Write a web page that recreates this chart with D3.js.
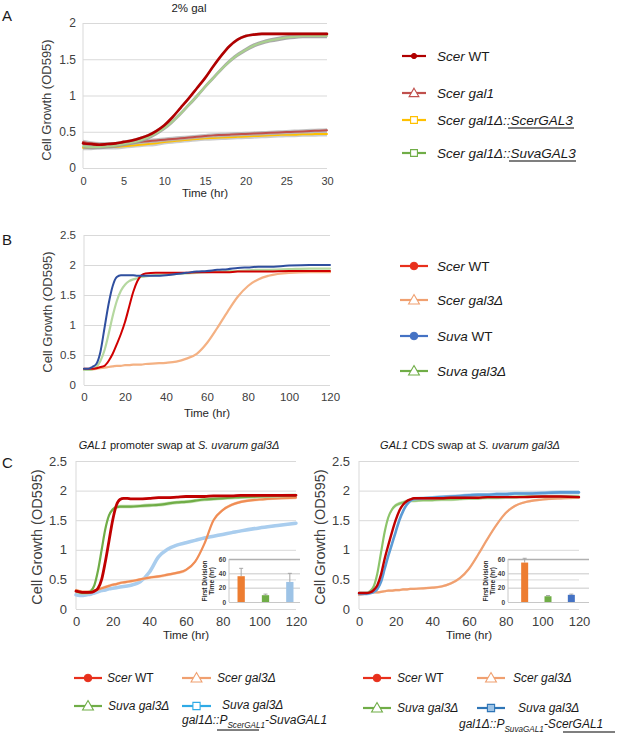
<!DOCTYPE html>
<html><head><meta charset="utf-8">
<script src="https://cdn.jsdelivr.net/npm/d3@7"></script>
<style>html,body{margin:0;padding:0;background:#fff;}svg{display:block;}</style>
</head><body>
<script>
// ---------------- DATA ----------------
// Panel A (2% gal), time in hr
const timeA = [0,1,2,3,4,5,6,7,8,9,10,11,12,13,14,15,16,17,18,19,20,21,22,23,24,25,26,27,28,29,30];
const aScerWT   = [0.34,0.33,0.32,0.33,0.34,0.36,0.38,0.41,0.45,0.51,0.59,0.70,0.83,0.96,1.10,1.24,1.40,1.55,1.68,1.77,1.82,1.84,1.85,1.85,1.85,1.85,1.85,1.85,1.85,1.85,1.85];
const aScerGal1 = [0.36,0.34,0.33,0.33,0.33,0.34,0.35,0.36,0.37,0.38,0.39,0.40,0.41,0.42,0.43,0.44,0.45,0.455,0.46,0.465,0.47,0.475,0.48,0.485,0.49,0.495,0.50,0.505,0.51,0.515,0.52];
const aScerGAL3 = [0.28,0.28,0.29,0.29,0.29,0.30,0.31,0.32,0.33,0.34,0.36,0.37,0.38,0.39,0.40,0.41,0.415,0.42,0.425,0.43,0.435,0.44,0.445,0.45,0.455,0.46,0.46,0.465,0.465,0.47,0.47];
const aSuvaGAL3 = [0.30,0.29,0.29,0.30,0.31,0.33,0.35,0.38,0.42,0.48,0.55,0.64,0.75,0.87,0.99,1.12,1.24,1.36,1.47,1.56,1.63,1.69,1.73,1.76,1.78,1.80,1.81,1.82,1.82,1.82,1.82];
const aErrors   = [0.02, 0.03, 0.035, 0.03];
const aLabels   = ["Scer WT", "Scer gal1", "Scer gal1Δ::ScerGAL3", "Scer gal1Δ::SuvaGAL3"];

// Panels B and C share a time grid (hr)
const timeBC = [0,2,4,6,8,10,12,14,16,18,20,22,24,26,28,30,35,40,45,50,55,60,65,70,75,80,85,90,100,110,120];
const bScerWT   = [0.27,0.27,0.27,0.28,0.30,0.32,0.40,0.52,0.68,0.85,1.05,1.30,1.55,1.73,1.83,1.86,1.87,1.87,1.87,1.87,1.88,1.88,1.88,1.88,1.89,1.89,1.89,1.89,1.90,1.90,1.90];
const bScerGal3 = [0.25,0.25,0.26,0.27,0.28,0.29,0.30,0.31,0.32,0.32,0.33,0.33,0.34,0.34,0.34,0.35,0.36,0.37,0.39,0.44,0.52,0.70,0.95,1.22,1.47,1.65,1.76,1.82,1.87,1.88,1.88];
const bSuvaWT   = [0.27,0.27,0.30,0.35,0.55,0.95,1.35,1.65,1.80,1.83,1.83,1.83,1.83,1.82,1.82,1.82,1.82,1.83,1.85,1.87,1.89,1.90,1.92,1.93,1.95,1.96,1.97,1.97,1.99,2.00,2.00];
const bSuvaGal3 = [0.25,0.25,0.26,0.30,0.40,0.58,0.85,1.15,1.40,1.57,1.67,1.73,1.76,1.78,1.80,1.81,1.83,1.84,1.85,1.86,1.87,1.88,1.89,1.90,1.90,1.91,1.92,1.92,1.93,1.94,1.94];

// Panel C left: GAL1 promoter swap
const cpScerWT   = [0.30,0.29,0.28,0.28,0.28,0.30,0.35,0.50,0.80,1.15,1.50,1.75,1.85,1.87,1.87,1.86,1.86,1.87,1.88,1.88,1.89,1.90,1.90,1.90,1.91,1.91,1.91,1.92,1.92,1.92,1.92];
const cpScerGal3 = [0.32,0.30,0.29,0.29,0.30,0.31,0.33,0.35,0.37,0.39,0.41,0.42,0.44,0.45,0.46,0.47,0.50,0.53,0.55,0.58,0.61,0.66,0.80,1.10,1.50,1.67,1.76,1.81,1.85,1.87,1.88];
const cpSuvaGal3 = [0.30,0.28,0.27,0.27,0.30,0.40,0.65,1.00,1.35,1.58,1.68,1.72,1.73,1.73,1.73,1.73,1.74,1.75,1.76,1.78,1.80,1.81,1.83,1.85,1.86,1.87,1.88,1.89,1.90,1.91,1.92];
const cpSwap     = [0.24,0.23,0.23,0.24,0.25,0.27,0.29,0.31,0.32,0.34,0.35,0.36,0.37,0.38,0.39,0.40,0.46,0.62,0.88,1.01,1.08,1.12,1.16,1.20,1.23,1.26,1.29,1.32,1.37,1.41,1.45];

// Panel C right: GAL1 CDS swap
const ccScerWT   = [0.27,0.27,0.27,0.28,0.32,0.40,0.58,0.85,1.08,1.30,1.50,1.66,1.76,1.82,1.85,1.87,1.87,1.87,1.87,1.88,1.88,1.88,1.88,1.89,1.89,1.89,1.89,1.89,1.90,1.90,1.89];
const ccScerGal3 = [0.24,0.25,0.26,0.27,0.28,0.28,0.29,0.30,0.31,0.31,0.32,0.32,0.33,0.33,0.34,0.34,0.35,0.36,0.38,0.43,0.52,0.68,0.92,1.18,1.42,1.62,1.74,1.80,1.85,1.87,1.88];
const ccSuvaGal3 = [0.27,0.27,0.27,0.30,0.38,0.60,0.95,1.30,1.55,1.68,1.75,1.78,1.80,1.82,1.83,1.83,1.84,1.84,1.85,1.85,1.86,1.87,1.87,1.88,1.88,1.89,1.89,1.90,1.90,1.90,1.90];
const ccSwap     = [0.26,0.26,0.26,0.27,0.29,0.34,0.46,0.68,0.90,1.10,1.30,1.50,1.65,1.76,1.83,1.86,1.87,1.88,1.89,1.90,1.91,1.92,1.93,1.93,1.94,1.94,1.95,1.95,1.96,1.97,1.97];

// Insets: first division time (hr)
const insetCats      = ["Scer gal3Δ", "Suva gal3Δ", "swap"];
const insetPromoter  = [36, 9.5, 28];
const insetPromErr   = [11, 1.5, 12];
const insetCDS       = [55, 8, 10];
const insetCDSErr    = [6, 1, 1];

// Tick values
const yTicksA = [0, 0.5, 1, 1.5, 2];
const xTicksA = [0, 5, 10, 15, 20, 25, 30];
const yTicksBC = [0, 0.5, 1, 1.5, 2, 2.5];
const xTicksBC = [0, 20, 40, 60, 80, 100, 120];
const yTicksInset = [0, 20, 40, 60];

// ---------------- DRAW ----------------
const FONT = "'Liberation Sans', Arial, Helvetica, sans-serif";
const W = 617, H = 734;
const svg = d3.select("body").append("svg").attr("width", W).attr("height", H)
  .style("font-family", FONT);
svg.append("rect").attr("width", W).attr("height", H).attr("fill", "#fff");

const GRID = "#d9d9d9", TICK = "#404040";

function rich(g, x, y, parts, size, anchor, fill) {
  const t = g.append("text").attr("x", x).attr("y", y)
    .attr("font-size", size).attr("text-anchor", anchor || "start")
    .attr("fill", fill || "#1a1a1a");
  parts.forEach(p => {
    const s = t.append("tspan").text(p.t);
    if (p.i) s.attr("font-style", "italic");
    if (p.sub) s.attr("font-size", size * 0.68).attr("dy", size * 0.3);
    if (p.unsub) s.attr("dy", -size * 0.3);
  });
  return t;
}

function panel(cfg) {
  const g = svg.append("g");
  const x = d3.scaleLinear().domain(cfg.xDomain).range(cfg.xRange);
  const y = d3.scaleLinear().domain(cfg.yDomain).range(cfg.yRange);
  const w = cfg.xRange[1] - cfg.xRange[0];
  const ya = g.append("g").attr("transform", `translate(${cfg.xRange[0]},0)`)
    .call(d3.axisLeft(y).tickValues(cfg.yTicks).tickSize(-w).tickPadding(cfg.yPad)
      .tickFormat(d3.format("~g")));
  ya.select(".domain").remove();
  ya.selectAll("line").attr("stroke", GRID).attr("stroke-width", 1);
  ya.selectAll("text").attr("fill", TICK).attr("font-size", cfg.yFont).attr("font-family", FONT);
  g.append("line").attr("x1", cfg.xRange[0]).attr("x2", cfg.xRange[0])
    .attr("y1", cfg.yRange[0]).attr("y2", cfg.yRange[1]).attr("stroke", GRID);
  const xa = g.append("g").attr("transform", `translate(0,${cfg.yRange[0]})`)
    .call(d3.axisBottom(x).tickValues(cfg.xTicks).tickSize(0).tickPadding(cfg.xPad));
  xa.select(".domain").remove();
  xa.selectAll("text").attr("fill", TICK).attr("font-size", cfg.xFont).attr("font-family", FONT);
  g.append("text").attr("x", (cfg.xRange[0] + cfg.xRange[1]) / 2).attr("y", cfg.xTitleY)
    .attr("text-anchor", "middle").attr("font-size", cfg.xTitleFont).attr("fill", "#262626").text("Time (hr)");
  g.append("text").attr("transform", `translate(${cfg.yTitleX},${cfg.yTitleY}) rotate(-90)`)
    .attr("text-anchor", "middle").attr("font-size", cfg.yTitleFont).attr("fill", "#404040")
    .text("Cell Growth (OD595)");
  const sg = g.append("g");
  cfg.series.forEach(s => {
    const pts = cfg.time.map((t, i) => ({ t, v: s.values[i] }));
    if (s.err) {
      sg.append("path").datum(pts)
        .attr("d", d3.area().curve(d3.curveMonotoneX).x(d => x(d.t))
          .y0(d => y(d.v - s.err)).y1(d => y(d.v + s.err)))
        .attr("fill", s.band).attr("opacity", s.bandOpacity || 0.8);
    }
    sg.append("path").datum(pts)
      .attr("d", d3.line().curve(d3.curveMonotoneX).x(d => x(d.t)).y(d => y(d.v)))
      .attr("fill", "none").attr("stroke", s.color).attr("stroke-width", s.width)
      .attr("stroke-linejoin", "round").attr("stroke-linecap", "round");
  });
  return { g, x, y };
}

function marker(g, type, cx, cy, color, fill, size) {
  if (type === "circle") {
    g.append("circle").attr("cx", cx).attr("cy", cy).attr("r", size)
      .attr("fill", fill).attr("stroke", color).attr("stroke-width", 1);
  } else {
    const sym = type === "triangle" ? d3.symbolTriangle : d3.symbolSquare;
    const area = type === "triangle" ? size * size * 3.2 : size * size * 3.6;
    g.append("path").attr("d", d3.symbol().type(sym).size(area)())
      .attr("transform", `translate(${cx},${cy + (type === "triangle" ? 0.8 : 0)})`)
      .attr("fill", fill).attr("stroke", color).attr("stroke-width", 1.1);
  }
}

function legendItem(g, x1, x2, cy, color, type, fill, size) {
  g.append("line").attr("x1", x1).attr("x2", x2).attr("y1", cy).attr("y2", cy)
    .attr("stroke", color).attr("stroke-width", 2.2);
  marker(g, type, (x1 + x2) / 2, cy, color, fill, size);
}

// ---------- Panel A ----------
svg.append("text").attr("x", 2).attr("y", 21).attr("font-size", 15).attr("fill", "#1a1a1a").text("A");
svg.append("text").attr("x", 189).attr("y", 12).attr("text-anchor", "middle")
  .attr("font-size", 11.5).attr("fill", "#1a1a1a").text("2% gal");
const aColors = ["#b00000", "#c0504d", "#ffc000", "#70ad47"];
panel({
  xDomain: [0, 30], xRange: [83, 327], yDomain: [0, 2], yRange: [168, 23],
  yTicks: yTicksA, xTicks: xTicksA, yPad: 7, xPad: 9, yFont: 12, xFont: 11,
  xTitleY: 197, xTitleFont: 11.5, yTitleX: 51, yTitleY: 100, yTitleFont: 13,
  time: timeA,
  series: [
    { values: aScerGAL3, color: aColors[2], width: 2, err: aErrors[2], band: "#bfbfbf" },
    { values: aScerGal1, color: aColors[1], width: 2, err: aErrors[1], band: "#b3b3b3" },
    { values: aSuvaGAL3, color: "#a9d18e", width: 2, err: aErrors[3], band: "#9a9a9a", bandOpacity: 0.85 },
    { values: aScerWT, color: aColors[0], width: 2.6, err: aErrors[0], band: "#b0a0a0" }
  ]
});
{
  const g = svg.append("g");
  const rows = [56, 93, 120, 153];
  const types = ["circle", "triangle", "square", "square"];
  const fills = [aColors[0], "#fff", "#fff", "#fff"];
  rows.forEach((cy, i) => legendItem(g, 402, 426, cy, aColors[i], types[i], fills[i], i === 0 ? 2.6 : 3.6));
  const fs = 13.5, off = 4.6;
  rich(g, 437, rows[0] + off, [{ t: "Scer", i: 1 }, { t: " WT" }], fs);
  rich(g, 437, rows[1] + off, [{ t: "Scer gal1", i: 1 }], fs);
  rich(g, 437, rows[2] + off, [{ t: "Scer gal1Δ::ScerGAL3", i: 1 }], fs);
  rich(g, 437, rows[3] + off, [{ t: "Scer gal1Δ::SuvaGAL3", i: 1 }], fs);
  g.append("line").attr("x1", 508).attr("x2", 574).attr("y1", 128).attr("y2", 128).attr("stroke", "#7f7f7f").attr("stroke-width", 2);
  g.append("line").attr("x1", 509).attr("x2", 576).attr("y1", 161).attr("y2", 161).attr("stroke", "#7f7f7f").attr("stroke-width", 2);
}

// ---------- Panel B ----------
svg.append("text").attr("x", 2).attr("y", 245).attr("font-size", 15).attr("fill", "#1a1a1a").text("B");
panel({
  xDomain: [0, 120], xRange: [84, 330], yDomain: [0, 2.5], yRange: [385, 235],
  yTicks: yTicksBC, xTicks: xTicksBC, yPad: 8, xPad: 8, yFont: 11.5, xFont: 11.5,
  xTitleY: 417, xTitleFont: 11.5, yTitleX: 52, yTitleY: 312, yTitleFont: 13,
  time: timeBC,
  series: [
    { values: bScerGal3, color: "#f4b183", width: 2.2 },
    { values: bSuvaGal3, color: "#b5d8a0", width: 2.2 },
    { values: bScerWT, color: "#d00000", width: 2 },
    { values: bSuvaWT, color: "#2f4f9f", width: 2 }
  ]
});
{
  const g = svg.append("g");
  const rows = [266, 300, 336, 371];
  const cols = ["#e8301c", "#f0a070", "#4472c4", "#70ad47"];
  const types = ["circle", "triangle", "circle", "triangle"];
  const fills = ["#e8301c", "#fff", "#4472c4", "#fff"];
  rows.forEach((cy, i) => legendItem(g, 400, 428, cy, cols[i], types[i], fills[i], types[i] === "circle" ? 3.8 : 4));
  const fs = 13.5, off = 4.6;
  rich(g, 437, rows[0] + off, [{ t: "Scer", i: 1 }, { t: " WT" }], fs);
  rich(g, 437, rows[1] + off, [{ t: "Scer gal3Δ", i: 1 }], fs);
  rich(g, 437, rows[2] + off, [{ t: "Suva", i: 1 }, { t: " WT" }], fs);
  rich(g, 437, rows[3] + off, [{ t: "Suva gal3Δ", i: 1 }], fs);
}

// ---------- Panel C ----------
svg.append("text").attr("x", 2).attr("y", 468).attr("font-size", 15).attr("fill", "#1a1a1a").text("C");
rich(svg, 179, 449, [{ t: "GAL1", i: 1 }, { t: " promoter swap at " }, { t: "S. uvarum gal3Δ", i: 1 }], 11, "middle");
rich(svg, 470, 449, [{ t: "GAL1", i: 1 }, { t: " CDS swap at " }, { t: "S. uvarum gal3Δ", i: 1 }], 11, "middle");

const cBase = {
  xDomain: [0, 120], yDomain: [0, 2.5], yRange: [609, 461],
  yTicks: yTicksBC, xTicks: xTicksBC, yPad: 9, xPad: 8, yFont: 13, xFont: 13,
  xTitleY: 639, xTitleFont: 11.5, yTitleY: 537, yTitleFont: 14.5, time: timeBC
};
panel(Object.assign({}, cBase, {
  xRange: [76, 296], yTitleX: 42,
  series: [
    { values: cpSwap, color: "#a9cdee", width: 3.5, err: 0.02, band: "#c6dcf2" },
    { values: cpScerGal3, color: "#f08d55", width: 2.2, err: 0.025, band: "#f8c9a8" },
    { values: cpSuvaGal3, color: "#70ad47", width: 2.2, err: 0.03, band: "#b5d8a0" },
    { values: cpScerWT, color: "#c00000", width: 2.8, err: 0.015, band: "#d86060" }
  ]
}));
panel(Object.assign({}, cBase, {
  xRange: [359, 579], yTitleX: 325,
  series: [
    { values: ccScerGal3, color: "#f0a070", width: 2.2, err: 0.02, band: "#f8c9a8" },
    { values: ccSuvaGal3, color: "#8cc46a", width: 2.2, err: 0.03, band: "#c5e0b4" },
    { values: ccSwap, color: "#5b9bd5", width: 2.6, err: 0.03, band: "#9dc3e6" },
    { values: ccScerWT, color: "#c00000", width: 2.4, err: 0.015, band: "#d86060" }
  ]
}));

function inset(gx, bx, values, errs, colors, titleX) {
  const g = svg.append("g");
  const y = d3.scaleLinear().domain([0, 60]).range([602, 559]);
  const xb = d3.scaleBand().domain(insetCats).range(bx).paddingInner(0.7).paddingOuter(0.35);
  const ya = g.append("g").attr("transform", `translate(${gx[0]},0)`)
    .call(d3.axisLeft(y).tickValues(yTicksInset).tickSize(-(gx[1] - gx[0])).tickPadding(3));
  ya.select(".domain").remove();
  ya.selectAll("line").attr("stroke", d => d === 60 ? "#b0b0b0" : "#c8c8c8").attr("stroke-width", d => d === 60 ? 1.6 : 1);
  ya.selectAll("text").attr("font-size", 6.5).attr("font-weight", "bold").attr("fill", "#404040").attr("font-family", FONT);
  g.append("line").attr("x1", gx[0]).attr("x2", gx[0]).attr("y1", 602).attr("y2", 559).attr("stroke", "#c8c8c8");
  insetCats.forEach((c, i) => {
    const cx = xb(c) + xb.bandwidth() / 2;
    g.append("line").attr("x1", cx).attr("x2", cx).attr("y1", y(values[i])).attr("y2", y(values[i] + errs[i]))
      .attr("stroke", "#a6a6a6").attr("stroke-width", 1);
    g.append("line").attr("x1", cx - 2).attr("x2", cx + 2).attr("y1", y(values[i] + errs[i])).attr("y2", y(values[i] + errs[i]))
      .attr("stroke", "#a6a6a6").attr("stroke-width", 1);
    g.append("rect").attr("x", xb(c)).attr("width", xb.bandwidth())
      .attr("y", y(values[i])).attr("height", y(0) - y(values[i])).attr("fill", colors[i]);
  });
  const t = g.append("text").attr("transform", `translate(${titleX},581) rotate(-90)`)
    .attr("text-anchor", "middle").attr("font-size", 6.5).attr("font-weight", "bold").attr("fill", "#262626");
  t.append("tspan").attr("x", 0).attr("dy", 0).text("First Division");
  t.append("tspan").attr("x", 0).attr("dy", 7).text("Time (hr)");
}
inset([229, 300], [229, 302], insetPromoter, insetPromErr, ["#ed7d31", "#70ad47", "#9dc3e6"], 207);
inset([508, 589], [513, 583], insetCDS, insetCDSErr, ["#ed7d31", "#70ad47", "#4472c4"], 488);

// Legends C
{
  const g = svg.append("g");
  const fs = 12, off = 4.2;
  legendItem(g, 74, 102, 678, "#e8301c", "circle", "#e8301c", 3.8);
  rich(g, 107, 678 + off, [{ t: "Scer", i: 1 }, { t: " WT" }], fs);
  legendItem(g, 182, 211, 678, "#f0a070", "triangle", "#fff", 4);
  rich(g, 217, 678 + off, [{ t: "Scer gal3Δ", i: 1 }], fs);
  legendItem(g, 74, 102, 706, "#70ad47", "triangle", "#fff", 4);
  rich(g, 108, 706 + off, [{ t: "Suva gal3Δ", i: 1 }], fs);
  legendItem(g, 182, 211, 706, "#2eaae6", "square", "#fff", 3.8);
  rich(g, 222, 706 + off - 1, [{ t: "Suva gal3Δ", i: 1 }], fs);
  rich(g, 182, 720 + off, [{ t: "gal1Δ::P", i: 1 }, { t: "ScerGAL1", i: 1, sub: 1 }, { t: "-SuvaGAL1", i: 1, unsub: 1 }], fs);
  g.append("line").attr("x1", 217).attr("x2", 259).attr("y1", 730).attr("y2", 730).attr("stroke", "#7f7f7f").attr("stroke-width", 2);
  legendItem(g, 363, 391, 678, "#e8301c", "circle", "#e8301c", 3.8);
  rich(g, 397, 678 + off, [{ t: "Scer", i: 1 }, { t: " WT" }], fs);
  legendItem(g, 477, 505, 678, "#f0a070", "triangle", "#fff", 4);
  rich(g, 513, 678 + off, [{ t: "Scer gal3Δ", i: 1 }], fs);
  legendItem(g, 363, 391, 708, "#70ad47", "triangle", "#fff", 4);
  rich(g, 397, 708 + off, [{ t: "Suva gal3Δ", i: 1 }], fs);
  legendItem(g, 477, 505, 708, "#2e75b6", "square", "#9dc3e6", 3.8);
  rich(g, 518, 708 + off, [{ t: "Suva gal3Δ", i: 1 }], fs);
  rich(g, 459, 724 + off, [{ t: "gal1Δ::P", i: 1 }, { t: "SuvaGAL1", i: 1, sub: 1 }, { t: "-ScerGAL1", i: 1, unsub: 1 }], fs);
  g.append("line").attr("x1", 563).attr("x2", 615).attr("y1", 732).attr("y2", 732).attr("stroke", "#7f7f7f").attr("stroke-width", 2);
}
</script>
</body></html>
